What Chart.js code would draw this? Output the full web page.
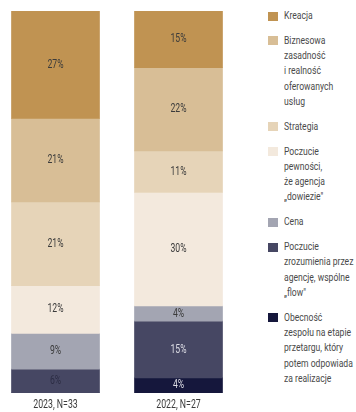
<!DOCTYPE html>
<html>
<head>
<meta charset="utf-8">
<script src="https://cdn.jsdelivr.net/npm/chart.js@4"></script>
<style>
  html, body { margin: 0; padding: 0; background: #fff; }
  body { width: 356px; height: 412px; position: relative; overflow: hidden;
         font-family: Roboto, "Noto Sans", sans-serif; }
  #wrap { position: absolute; left: -6px; top: 0; width: 246px; height: 412px; }
  #legend { position: absolute; left: 268px; top: 8px; width: 88px; }
  .item { display: flex; align-items: flex-start; margin-bottom: 9.5px; }
  .sw { width: 10px; height: 9px; flex: none; margin-top: 3.5px; margin-right: 6px; }
  .txt { font-size: 11px; line-height: 15.3px; color: #4a4a4a; white-space: nowrap;
         transform: scaleX(0.78); transform-origin: left top; }
</style>
</head>
<body>
<div id="wrap"><canvas id="chart"></canvas></div>
<div id="legend"></div>
<script>
// categories (bars) and answer options
const years = ["2023, N=33", "2022, N=27"];
const options = [
  "Kreacja",
  "Biznesowa|zasadność|i realność|oferowanych|usług",
  "Strategia",
  "Poczucie|pewności,|że agencja|„dowiezie\"",
  "Cena",
  "Poczucie|zrozumienia przez|agencję, wspólne|„flow\"",
  "Obecność|zespołu na etapie|przetargu, który|potem odpowiada|za realizacje"
];
const colors = ["#c09352", "#d8be96", "#e6d4b8", "#f3e9dd", "#a3a5b2", "#464763", "#15173c"];

// percentages per option, [2023, 2022]
const kreacja = [27, 15];
const biznesowa = [21, 22];
const strategia = [21, 11];
const pewnosc = [12, 30];
const cena = [9, 4];
const zrozumienie = [6, 15];
const obecnosc = [0, 4];

const values = [kreacja, biznesowa, strategia, pewnosc, cena, zrozumienie, obecnosc];

// each bar is drawn as 100% of its own total
const totals = years.map((y, i) => values.reduce((s, v) => s + v[i], 0));

const labelColors = [
  ["#3b3b3b", "#3b3b3b"],
  ["#3b3b3b", "#3b3b3b"],
  ["#3b3b3b", "#3b3b3b"],
  ["#3b3b3b", "#3b3b3b"],
  ["#3b3b3b", "#3b3b3b"],
  ["#2c2d44", "#dcdce4"],
  ["#dcdce4", "#dcdce4"]
];

const datasets = values.map((v, k) => ({
  label: options[k].replace(/\|/g, " "),
  data: v.map((x, i) => x / totals[i] * 100),
  raw: v,
  backgroundColor: colors[k],
  borderWidth: 0,
  barThickness: 88
}));

// narrow text, the original uses a condensed face
function narrowText(ctx, text, x, y, squeeze) {
  ctx.save();
  ctx.translate(x, y);
  ctx.scale(squeeze, 1);
  ctx.fillText(text, 0, 0);
  ctx.restore();
}

// percent labels inside the segments and category labels under the bars
const segLabels = {
  id: 'segLabels',
  afterDatasetsDraw(chart) {
    const ctx = chart.ctx;
    ctx.save();
    ctx.font = '12px Roboto, "Noto Sans", sans-serif';
    ctx.textAlign = 'center';
    ctx.textBaseline = 'middle';
    chart.data.datasets.forEach((ds, k) => {
      chart.getDatasetMeta(k).data.forEach((bar, i) => {
        if (!ds.raw[i]) return;
        ctx.fillStyle = labelColors[k][i];
        narrowText(ctx, ds.raw[i] + '%', bar.x, (bar.y + bar.base) / 2, 0.72);
      });
    });
    const xs = chart.scales.x;
    ctx.font = '12.5px Roboto, "Noto Sans", sans-serif';
    ctx.fillStyle = '#3b3b3b';
    years.forEach((lab, i) => {
      narrowText(ctx, lab, xs.getPixelForTick(i), chart.chartArea.bottom + 12, 0.7);
    });
    ctx.restore();
  }
};

new Chart(document.getElementById('chart'), {
  type: 'bar',
  data: { labels: years, datasets: datasets },
  options: {
    responsive: true,
    maintainAspectRatio: false,
    animation: false,
    layout: { padding: { top: 11, bottom: 19, left: 0, right: 0 } },
    plugins: { legend: { display: false }, tooltip: { enabled: false } },
    scales: {
      x: {
        stacked: true,
        grid: { display: false, drawTicks: false },
        border: { display: false },
        ticks: { display: false }
      },
      y: {
        stacked: true,
        display: false,
        reverse: true,
        min: 0,
        max: 100
      }
    }
  },
  plugins: [segLabels]
});

// legend on the right
const legend = document.getElementById('legend');
options.forEach((name, k) => {
  const item = document.createElement('div');
  item.className = 'item';
  const sw = document.createElement('div');
  sw.className = 'sw';
  sw.style.background = colors[k];
  const txt = document.createElement('div');
  txt.className = 'txt';
  txt.innerHTML = name.split('|').join('<br>');
  item.appendChild(sw);
  item.appendChild(txt);
  legend.appendChild(item);
});
</script>
</body>
</html>
